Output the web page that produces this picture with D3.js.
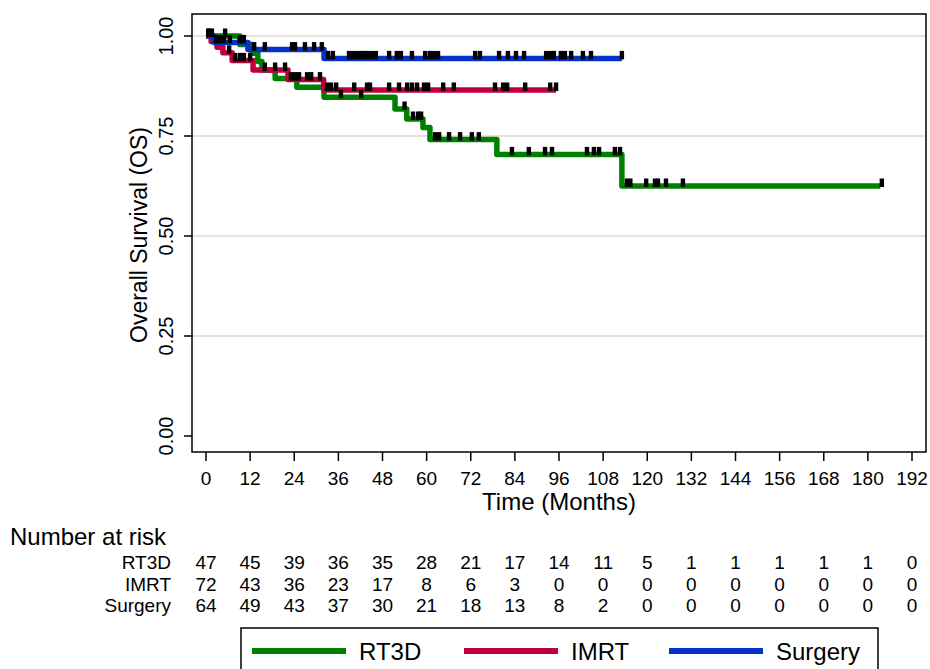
<!DOCTYPE html>
<html>
<head>
<meta charset="utf-8">
<script src="https://cdn.jsdelivr.net/npm/d3@7"></script>
<style>
  body { margin: 0; background: #fff; }
  text { font-family: "Liberation Sans", Arial, sans-serif; fill: #000; }
</style>
</head>
<body>
<script>
const width = 930;
const height = 669;
const margin = {top: 14, right: 4, bottom: 217, left: 192};

// tick labels
const monthTicks = [0, 12, 24, 36, 48, 60, 72, 84, 96, 108, 120, 132, 144, 156, 168, 180, 192];
const survTicks = [0, 0.25, 0.5, 0.75, 1];

// groups
const groups = ["RT3D", "IMRT", "Surgery"];
const colors = ["#008000", "#c0003a", "#0533c8"];

// number at risk (per month tick)
const riskRT3D = [47, 45, 39, 36, 35, 28, 21, 17, 14, 11, 5, 1, 1, 1, 1, 1, 0];
const riskIMRT = [72, 43, 36, 23, 17, 8, 6, 3, 0, 0, 0, 0, 0, 0, 0, 0, 0];
const riskSurgery = [64, 49, 43, 37, 30, 21, 18, 13, 8, 2, 0, 0, 0, 0, 0, 0, 0];

// KM steps: event times and survival after each step
const rt3dTimes = [0, 9.2, 12.5, 14.1, 15.2, 18.8, 24.7, 32.1, 51.4, 54.6, 59.0, 60.9, 79.1, 113.1];
const rt3dSurv = [1, 0.979, 0.957, 0.936, 0.915, 0.894, 0.872, 0.847, 0.8175, 0.7925, 0.771, 0.741, 0.704, 0.625];
const rt3dEnd = 183.4;
const rt3dCensor = [5.2, 36.7, 42.2, 54.0, 56.3, 57.7, 58.5, 62.3, 63.4, 66.1, 69.1, 72.3, 74.2,
  83.2, 87.8, 92.2, 94.1, 103.6, 105.5, 106.9, 111.2, 112.6,
  114.5, 115.4, 119.7, 122.1, 122.9, 125.1, 129.7, 183.8];

const imrtTimes = [0, 1.4, 3.0, 4.6, 7.1, 12.8, 22.3, 32.0];
const imrtSurv = [1, 0.986, 0.972, 0.958, 0.939, 0.915, 0.891, 0.865];
const imrtEnd = 95.2;
const imrtCensor = [0.6, 6.3, 7.9, 9.2, 10.3, 12.0, 16.0, 18.8, 21.5, 23.1, 24.2, 25.3, 27.5, 28.6, 31.0,
  32.9, 34.0, 35.4, 40.3, 43.8, 44.6, 49.8, 52.5, 54.7, 56.0, 57.4, 59.3, 60.4, 64.5, 67.4,
  78.6, 80.8, 81.9, 86.8, 93.6, 95.2];

const surgTimes = [0, 2.2, 11.4, 32.1];
const surgSurv = [1, 0.984, 0.966, 0.944];
const surgEnd = 113.1;
const surgCensor = [0.9, 1.6, 2.7, 3.8, 4.9, 6.5, 9.2, 10.3, 13.1, 16.0, 23.4, 24.2, 26.9, 29.4, 31.5,
  33.2, 34.5, 38.9, 40.0, 41.1, 42.2, 43.0, 44.1, 45.1, 46.2, 49.8, 51.9, 53.0, 56.0,
  59.6, 60.9, 62.0, 63.1, 73.2, 74.5, 79.7, 82.1, 84.3, 86.5, 92.5, 93.6, 94.6, 96.5,
  97.6, 99.3, 102.5, 104.7, 113.1];

const curves = [
  {times: rt3dTimes, surv: rt3dSurv, end: rt3dEnd, censor: rt3dCensor},
  {times: imrtTimes, surv: imrtSurv, end: imrtEnd, censor: imrtCensor},
  {times: surgTimes, surv: surgSurv, end: surgEnd, censor: surgCensor}
];
const risks = [riskRT3D, riskIMRT, riskSurgery];

const plotRight = width - margin.right;
const plotBottom = height - margin.bottom;

const xScale = d3.scaleLinear()
                 .domain([0, 192])
                 .range([margin.left + 14, plotRight - 14]);
const yScale = d3.scaleLinear()
                 .domain([0, 1])
                 .range([plotBottom - 16, margin.top + 22]);

const svg = d3.select("body").append("svg")
              .attr("width", width)
              .attr("height", height);

// grid
svg.append("g")
   .selectAll("line")
   .data(survTicks.filter(d => d > 0))
   .enter()
   .append("line")
   .attr("x1", margin.left)
   .attr("x2", plotRight)
   .attr("y1", d => yScale(d))
   .attr("y2", d => yScale(d))
   .attr("stroke", "#e3e3e3")
   .attr("stroke-width", 2);

// curves
const line = d3.line()
               .x(d => xScale(d[0]))
               .y(d => yScale(d[1]))
               .curve(d3.curveStepAfter);

function survAt(c, t) {
  let s = 1;
  c.times.forEach((tt, i) => { if (tt <= t) s = c.surv[i]; });
  return s;
}

curves.forEach(function(c, i) {
  const pts = c.times.map((t, j) => [t, c.surv[j]]);
  pts.push([c.end, c.surv[c.surv.length - 1]]);
  svg.append("path")
     .attr("d", line(pts))
     .attr("fill", "none")
     .attr("stroke", colors[i])
     .attr("stroke-width", 5.5)
     .attr("stroke-linejoin", "round");
});

curves.forEach(function(c) {
  svg.append("g")
     .selectAll("rect")
     .data(c.censor)
     .enter()
     .append("rect")
     .attr("x", d => xScale(d) - 2.2)
     .attr("y", d => yScale(survAt(c, d)) - 7.5)
     .attr("width", 4.4)
     .attr("height", 8.5)
     .attr("fill", "#000");
});

// frame
svg.append("rect")
   .attr("x", margin.left)
   .attr("y", margin.top)
   .attr("width", plotRight - margin.left)
   .attr("height", plotBottom - margin.top)
   .attr("fill", "none")
   .attr("stroke", "#000")
   .attr("stroke-width", 1.5);

// y axis
const yAxis = svg.append("g")
   .attr("transform", "translate(" + margin.left + ",0)");
yAxis.selectAll("line")
   .data(survTicks)
   .enter()
   .append("line")
   .attr("x1", -8).attr("x2", 0)
   .attr("y1", d => yScale(d)).attr("y2", d => yScale(d))
   .attr("stroke", "#000").attr("stroke-width", 1.5);
yAxis.selectAll("text")
   .data(survTicks)
   .enter()
   .append("text")
   .attr("transform", d => "translate(-19," + yScale(d) + ") rotate(-90)")
   .attr("text-anchor", "middle")
   .style("font-size", "20px")
   .text(d => d3.format(".2f")(d));

svg.append("text")
   .attr("transform", "translate(147," + ((margin.top + plotBottom) / 2 + 2) + ") rotate(-90)")
   .attr("text-anchor", "middle")
   .style("font-size", "23px")
   .text("Overall Survival (OS)");

// x axis
const xAxis = svg.append("g")
   .attr("transform", "translate(0," + plotBottom + ")");
xAxis.selectAll("line")
   .data(monthTicks)
   .enter()
   .append("line")
   .attr("x1", d => xScale(d)).attr("x2", d => xScale(d))
   .attr("y1", 0).attr("y2", 9)
   .attr("stroke", "#000").attr("stroke-width", 1.5);
xAxis.selectAll("text")
   .data(monthTicks)
   .enter()
   .append("text")
   .attr("x", d => xScale(d))
   .attr("y", 33)
   .attr("text-anchor", "middle")
   .style("font-size", "19px")
   .text(d => d);

svg.append("text")
   .attr("x", (margin.left + plotRight) / 2)
   .attr("y", plotBottom + 58)
   .attr("text-anchor", "middle")
   .style("font-size", "24px")
   .text("Time (Months)");

// number at risk
svg.append("text")
   .attr("x", 10)
   .attr("y", 545)
   .style("font-size", "24px")
   .text("Number at risk");

risks.forEach(function(r, i) {
  const rowY = 569 + i * 21.5;
  svg.append("text")
     .attr("x", 171)
     .attr("y", rowY)
     .attr("text-anchor", "end")
     .style("font-size", "19px")
     .text(groups[i]);
  svg.append("g")
     .selectAll("text")
     .data(r)
     .enter()
     .append("text")
     .attr("x", (d, j) => xScale(monthTicks[j]))
     .attr("y", rowY)
     .attr("text-anchor", "middle")
     .style("font-size", "19px")
     .text(d => d);
});

// legend
const legend = svg.append("g");
legend.append("rect")
   .attr("x", 241).attr("y", 628)
   .attr("width", 637).attr("height", 60)
   .attr("fill", "#fff").attr("stroke", "#000").attr("stroke-width", 1.5);
const legX = [252, 464, 669];
groups.forEach(function(g, i) {
  legend.append("line")
     .attr("x1", legX[i]).attr("x2", legX[i] + 94)
     .attr("y1", 651).attr("y2", 651)
     .attr("stroke", colors[i]).attr("stroke-width", 6);
  legend.append("text")
     .attr("x", legX[i] + 107)
     .attr("y", 660)
     .style("font-size", "24px")
     .text(g);
});
</script>
</body>
</html>
